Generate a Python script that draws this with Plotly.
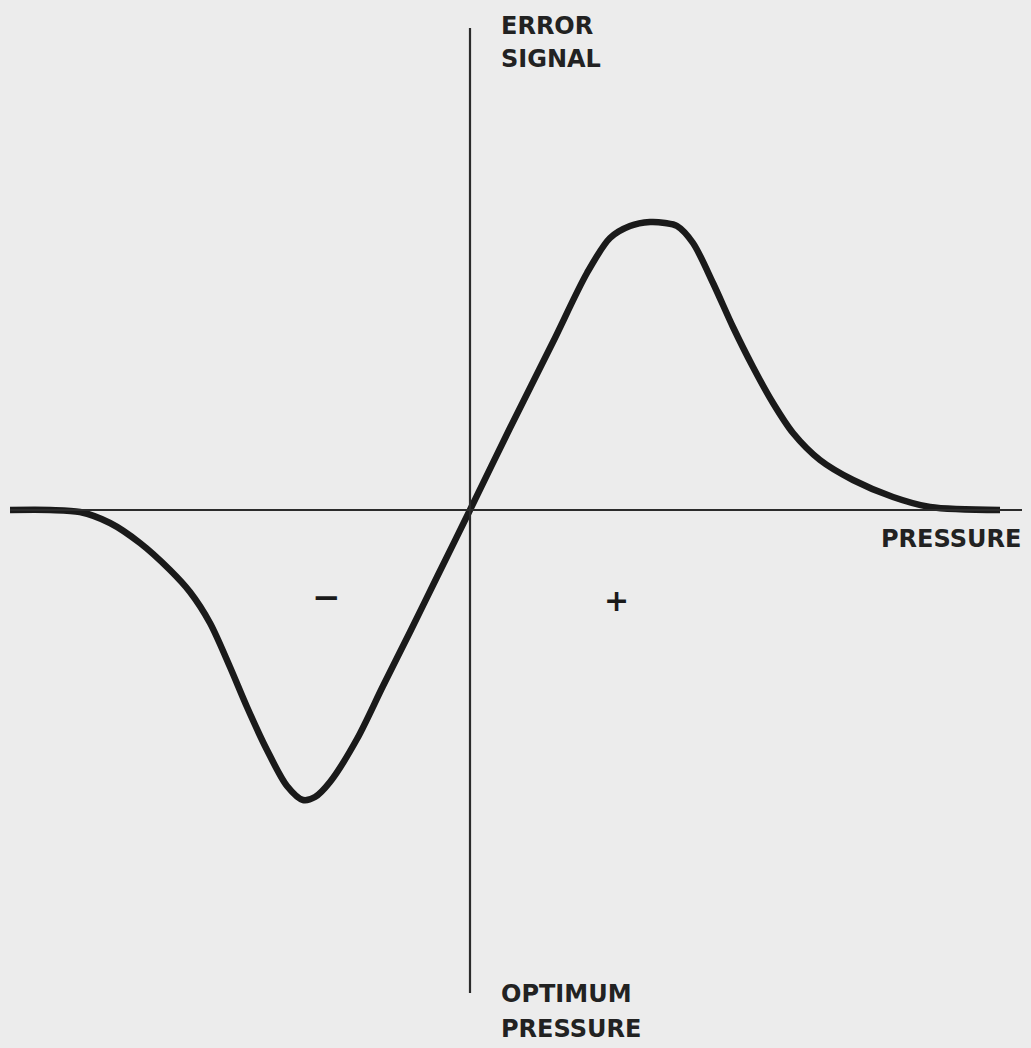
import plotly.graph_objects as go

# Pressure offset from the optimum point and the resulting error signal
pressure = [-460, -420, -390, -360, -330, -300, -280, -260, -240, -223, -203,
            -183, -167, -155, -140, -113, -87, -60, -33, 0,
            40, 83, 117, 140, 160, 180, 195, 207, 223, 243, 263, 283, 303,
            323, 350, 383, 423, 460, 530]
error_signal = [0, 0, -2, -13, -33, -60, -82, -113, -157, -197, -240,
                -276, -290, -287, -272, -229, -176, -122, -67, 0,
                82, 168, 237, 272, 284, 288, 287, 284, 267, 227, 183, 143, 107,
                77, 50, 30, 13, 3, 0]

axis_x_span = [-460, 552]
axis_y_span = [-483, 482]

ink = "#1a1a1a"
axis_ink = "#2b2b2b"
paper = "#ececec"
font_family = "DejaVu Sans, Verdana, sans-serif"

fig = go.Figure()

fig.add_trace(go.Scatter(
    x=pressure, y=error_signal, mode="lines",
    line=dict(color=ink, width=6.5, shape="spline", smoothing=0.85),
    hoverinfo="skip", showlegend=False,
))

# Axes crossing at the optimum pressure
fig.add_shape(type="line", x0=axis_x_span[0], x1=axis_x_span[1], y0=0, y1=0,
              line=dict(color=axis_ink, width=2.2))
fig.add_shape(type="line", x0=0, x1=0, y0=axis_y_span[0], y1=axis_y_span[1],
              line=dict(color=axis_ink, width=2.2))

label_font = dict(family=font_family, size=24, color="#222222", weight="bold")


def label(x, y, text, xanchor="left"):
    fig.add_annotation(x=x, y=y, text=text, showarrow=False,
                       xanchor=xanchor, yanchor="top", font=label_font)


label(29, 500.5, "ERROR")
label(29, 467.5, "SIGNAL")
label(553, -12.5, "PRESSURE", xanchor="right")
label(29, -467.5, "OPTIMUM")
label(29, -502.5, "PRESSURE")

fig.add_annotation(x=-144, y=-87, text="−", showarrow=False,
                   font=dict(family=font_family, size=34, color=ink, weight="bold"))
fig.add_annotation(x=146, y=-90, text="+", showarrow=False,
                   font=dict(family=font_family, size=30, color=ink, weight="bold"))

fig.update_layout(
    width=1031, height=1048,
    margin=dict(l=0, r=0, t=0, b=0),
    paper_bgcolor=paper, plot_bgcolor=paper,
    xaxis=dict(range=[-470, 561], visible=False, fixedrange=True),
    yaxis=dict(range=[-538, 510], visible=False, fixedrange=True),
)

fig.write_html("out.html")
